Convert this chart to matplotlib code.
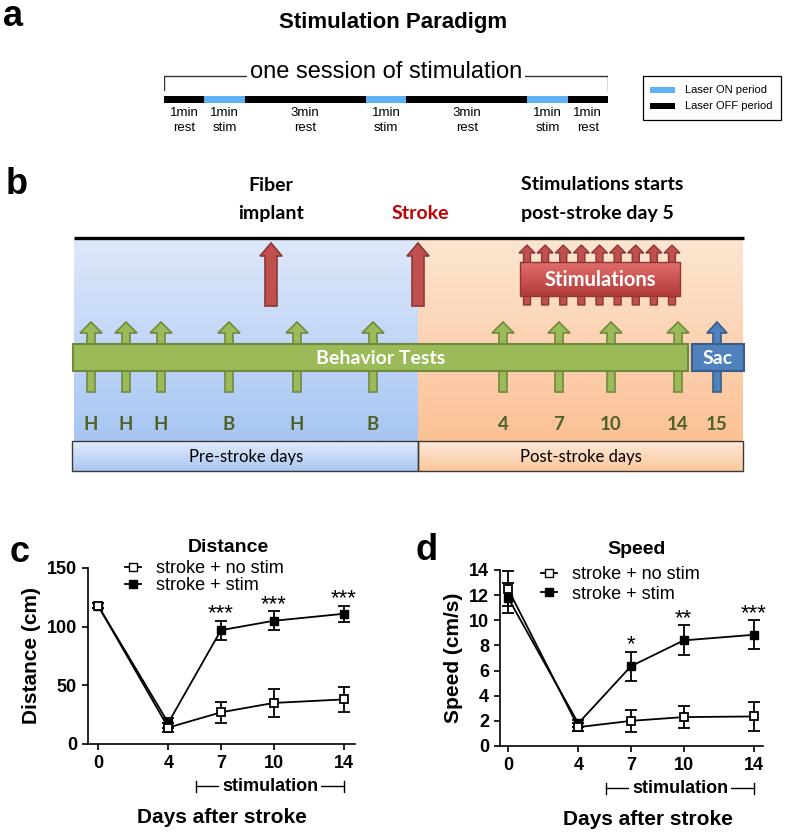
import numpy as np
import matplotlib
matplotlib.use("Agg")
import matplotlib.pyplot as plt
from matplotlib.patches import Rectangle, Polygon
from matplotlib.lines import Line2D
from matplotlib.colors import to_rgb

# --- data ---
# panel a: one stimulation session (minutes)
segment_minutes = [1, 1, 3, 1, 3, 1, 1]
segment_kind = ['rest', 'stim', 'rest', 'stim', 'rest', 'stim', 'rest']

# panel b: timeline labels
pre_labels = ['H', 'H', 'H', 'B', 'H', 'B']
post_labels = ['4', '7', '10', '14']
sac_label = '15'
n_stim_arrows = 9

# panels c, d
days = [0, 4, 7, 10, 14]
dist_nostim = [118, 14, 27, 35, 38]
dist_nostim_err = [2, 4, 9, 12, 11]
dist_stim = [118, 18, 97, 105, 111]
dist_stim_err = [2, 4, 8, 8, 7]
speed_nostim = [12.5, 1.5, 2.0, 2.3, 2.35]
speed_nostim_err = [1.4, 0.3, 0.9, 0.85, 1.15]
speed_stim = [11.8, 1.8, 6.35, 8.4, 8.85]
speed_stim_err = [1.2, 0.3, 1.15, 1.2, 1.15]
sig_days = [7, 10, 14]
dist_sig = ['***', '***', '***']
speed_sig = ['*', '**', '***']

# --- layout (pixels) ---
W, H = 787, 834
plt.rcParams['font.family'] = ['Liberation Sans', 'DejaVu Sans']
BFONT = ['Lato', 'DejaVu Sans']

fig = plt.figure(figsize=(W / 100, H / 100), dpi=100)
ax0 = fig.add_axes([0, 0, 1, 1])
ax0.axis('off')


def px_axes(x0, x1, y0, y1):
    return fig.add_axes([x0 / W, 1 - y1 / H, (x1 - x0) / W, (y1 - y0) / H])


def grad_rect(ax, x0, x1, y0, y1, c_top, c_bot, z=1):
    t = np.linspace(0, 1, 64)[:, None]
    img = np.array(to_rgb(c_top)) * (1 - t) + np.array(to_rgb(c_bot)) * t
    ax.imshow(img[:, None, :], extent=(x0, x1, y1, y0), origin='upper',
              aspect='auto', zorder=z, interpolation='bilinear')


def up_arrow(ax, x, y_bot, y_top, shaft, head, head_len, fc, ec, lw=1.2, z=3):
    yh = y_top + head_len
    pts = [(x - shaft / 2, y_bot), (x - shaft / 2, yh), (x - head / 2, yh), (x, y_top),
           (x + head / 2, yh), (x + shaft / 2, yh), (x + shaft / 2, y_bot)]
    ax.add_patch(Polygon(pts, closed=True, fc=fc, ec=ec, lw=lw, zorder=z))


# ================= panel a =================
ax0.text(13, 16, 'a', fontsize=26, fontweight='bold', ha='center', va='center')
ax0.text(393, 22, 'Stimulation Paradigm', fontsize=16, fontweight='bold', ha='center', va='center')

axa = px_axes(164, 608, 55, 140)
axa.axis('off')
axa.set_xlim(0, sum(segment_minutes))
axa.set_ylim(140, 55)
starts = np.concatenate([[0], np.cumsum(segment_minutes)[:-1]])
laser_blue = '#5eb1f3'
seg_colors = [laser_blue if k == 'stim' else 'black' for k in segment_kind]
axa.barh(99.5, segment_minutes, left=starts, height=7, color=seg_colors)
for s, m, k in zip(starts, segment_minutes, segment_kind):
    axa.text(s + m / 2, 113, f'{m}min', fontsize=9.5, ha='center', va='center')
    axa.text(s + m / 2, 128, k, fontsize=9.5, ha='center', va='center')
total = sum(segment_minutes)
axa.plot([0, 0, total, total], [90, 76, 76, 90], color='#333333', lw=1)
axa.text(total / 2, 72, 'one session of stimulation', fontsize=17, ha='center', va='center',
         bbox=dict(fc='white', ec='none', pad=2))

# legend box
ax0.add_patch(Rectangle((643, 76), 138, 44, fc='white', ec='black', lw=0.9))
ax0.add_patch(Rectangle((650, 87), 25, 6, fc=laser_blue, ec='none'))
ax0.add_patch(Rectangle((650, 103), 25, 6, fc='black', ec='none'))
ax0.text(685, 90, 'Laser ON period', fontsize=8, va='center')
ax0.text(685, 106, 'Laser OFF period', fontsize=8, va='center')

# ================= panel b =================
ax0.text(17, 184, 'b', fontsize=26, fontweight='bold', ha='center', va='center')
ax0.text(271, 185, 'Fiber', fontsize=14, fontweight='bold', family=BFONT, ha='center', va='center')
ax0.text(271, 213, 'implant', fontsize=14, fontweight='bold', family=BFONT, ha='center', va='center')
ax0.text(420, 213, 'Stroke', fontsize=14, fontweight='bold', family=BFONT, color='#c00000',
         ha='center', va='center')
ax0.text(521, 184, 'Stimulations starts', fontsize=14, fontweight='bold', family=BFONT, va='center')
ax0.text(521, 213, 'post-stroke day 5', fontsize=14, fontweight='bold', family=BFONT, va='center')

grad_rect(ax0, 74, 418, 238, 441, '#dde8fa', '#a8c6f3')
grad_rect(ax0, 418, 743, 238, 441, '#fde6d2', '#fbc195')
ax0.plot([74, 744], [237.5, 237.5], color='black', lw=2.4, zorder=4, solid_capstyle='butt')

# red arrows: fiber implant and stroke
red_fc, red_ec = '#c0504d', '#8c3836'
for x in [271, 418]:
    up_arrow(ax0, x, 306, 243, 12, 22, 13, red_fc, red_ec)

# stimulation arrows + box
stim_x = np.linspace(527, 672, n_stim_arrows)
for x in stim_x:
    up_arrow(ax0, x, 305, 245, 7, 16, 8, red_fc, red_ec, lw=1)
grad_rect(ax0, 520, 680, 262, 296, '#e26e6b', '#b23b38', z=5)
ax0.add_patch(Rectangle((520, 262), 160, 34, fc='none', ec=red_ec, lw=1, zorder=6))
ax0.text(600, 280, 'Stimulations', fontsize=14.5, fontweight='bold', family=BFONT, color='white',
         ha='center', va='center', zorder=7)

# behaviour test arrows
g_fc, g_ec = '#9bbb59', '#71893f'
pre_x = [91, 126, 161, 229, 297, 373]
post_x = [503, 559, 611, 678]
for x in pre_x + post_x:
    up_arrow(ax0, x, 392, 322, 8, 22, 11, g_fc, g_ec)
up_arrow(ax0, 717, 392, 322, 8, 20, 11, '#4f81bd', '#385d8a')

ax0.add_patch(Rectangle((73, 344), 615, 27, fc=g_fc, ec=g_ec, lw=1.5, zorder=5))
ax0.text(381, 358, 'Behavior Tests', fontsize=14, fontweight='bold', family=BFONT, color='white',
         ha='center', va='center', zorder=6)
ax0.add_patch(Rectangle((692, 344), 52, 27, fc='#4f81bd', ec='#385d8a', lw=1.5, zorder=5))
ax0.text(718, 358, 'Sac', fontsize=14, fontweight='bold', family=BFONT, color='white',
         ha='center', va='center', zorder=6)

label_green = '#4f6228'
for x, s in zip(pre_x + post_x + [717], pre_labels + post_labels + [sac_label]):
    ax0.text(x, 424, s, fontsize=13.5, fontweight='bold', family=BFONT, color=label_green,
             ha='center', va='center', zorder=6)

grad_rect(ax0, 72, 418, 441, 471, '#e2ecfb', '#a9c6f2', z=2)
grad_rect(ax0, 418, 743, 441, 471, '#fde9d8', '#fbc79c', z=2)
for x0, x1 in [(72, 418), (418, 743)]:
    ax0.add_patch(Rectangle((x0, 441), x1 - x0, 30, fc='none', ec='#3a3a3a', lw=1, zorder=3))
ax0.text(246, 457, 'Pre-stroke days', fontsize=12, family=BFONT, ha='center', va='center', zorder=4)
ax0.text(581, 457, 'Post-stroke days', fontsize=12, family=BFONT, ha='center', va='center', zorder=4)

ax0.text(20, 553, 'c', fontsize=26, fontweight='bold', ha='center', va='center')
ax0.text(427, 550, 'd', fontsize=26, fontweight='bold', ha='center', va='center')

ax0.set_xlim(0, W)
ax0.set_ylim(H, 0)


# ================= panels c, d =================
def line_panel(ax, title, ylabel, nostim, nostim_err, stim, stim_err, sig, yticks,
               title_x, xlab_x, leg_anchor, leg_space):
    ax.set_facecolor('none')
    ax.errorbar(days, stim, yerr=stim_err, color='black', lw=1.3, marker='s', ms=6,
                mfc='black', mec='black', capsize=4, capthick=1.3, elinewidth=1.3, zorder=3)
    ax.errorbar(days, nostim, yerr=nostim_err, color='black', lw=1.3, marker='s', ms=6,
                mfc='white', mec='black', mew=1.3, capsize=4, capthick=1.3, elinewidth=1.3, zorder=4)
    for d, s in zip(sig_days, sig):
        i = days.index(d)
        ax.annotate(s, (d, stim[i] + stim_err[i]), xytext=(0, 1), textcoords='offset points',
                    ha='center', va='baseline', fontsize=16)
    ax.set_ylim(yticks[0], yticks[-1])
    ax.set_yticks(yticks)
    ax.set_xticks(days)
    for sp in ['top', 'right']:
        ax.spines[sp].set_visible(False)
    for sp in ['left', 'bottom']:
        ax.spines[sp].set_linewidth(1.2)
    ax.tick_params(direction='out', length=4.5, width=1.2, labelsize=13)
    for lab in ax.get_xticklabels() + ax.get_yticklabels():
        lab.set_fontweight('bold')
    ax.set_ylabel(ylabel, fontsize=15, fontweight='bold', labelpad=4)
    ax.text(title_x, 1.115, title, transform=ax.transAxes, fontsize=14, fontweight='bold',
            ha='center', va='center')
    ax.text(xlab_x, -0.415, 'Days after stroke', transform=ax.transAxes, fontsize=15,
            fontweight='bold', ha='center', va='center')
    # stimulation bracket
    tr = ax.get_xaxis_transform()
    yb = -0.24
    ax.plot([5.6, 14], [yb, yb], color='black', lw=1, transform=tr, clip_on=False)
    for xe in [5.6, 14]:
        ax.plot([xe, xe], [yb - 0.03, yb + 0.03], color='black', lw=1, transform=tr, clip_on=False)
    ax.text(9.8, yb, 'stimulation', transform=tr, fontsize=13, fontweight='bold',
            ha='center', va='center', bbox=dict(fc='white', ec='none', pad=2))
    handles = [Line2D([], [], color='black', lw=1.3, marker='s', ms=5.5, mfc='white', mec='black'),
               Line2D([], [], color='black', lw=1.3, marker='s', ms=5.5, mfc='black', mec='black')]
    ax.legend(handles, ['stroke + no stim', 'stroke + stim'], loc='upper left',
              bbox_to_anchor=leg_anchor, frameon=False, fontsize=13, handlelength=0.9,
              handletextpad=0.8, labelspacing=leg_space, borderaxespad=0, borderpad=0)


axc = px_axes(88, 355, 568, 744)
axc.set_xlim(-0.57, 14.63)
line_panel(axc, 'Distance', 'Distance (cm)', dist_nostim, dist_nostim_err, dist_stim,
           dist_stim_err, dist_sig, [0, 50, 100, 150], 0.524, 0.5, (0.139, 1.045), 0.02)

axd = px_axes(500, 763, 570, 746)
axd.set_xlim(-0.455, 14.51)
line_panel(axd, 'Speed', 'Speed (cm/s)', speed_nostim, speed_nostim_err, speed_stim,
           speed_stim_err, speed_sig, list(range(0, 15, 2)), 0.52, 0.563, (0.156, 1.023), 0.15)

fig.savefig('out.png', dpi=100)
